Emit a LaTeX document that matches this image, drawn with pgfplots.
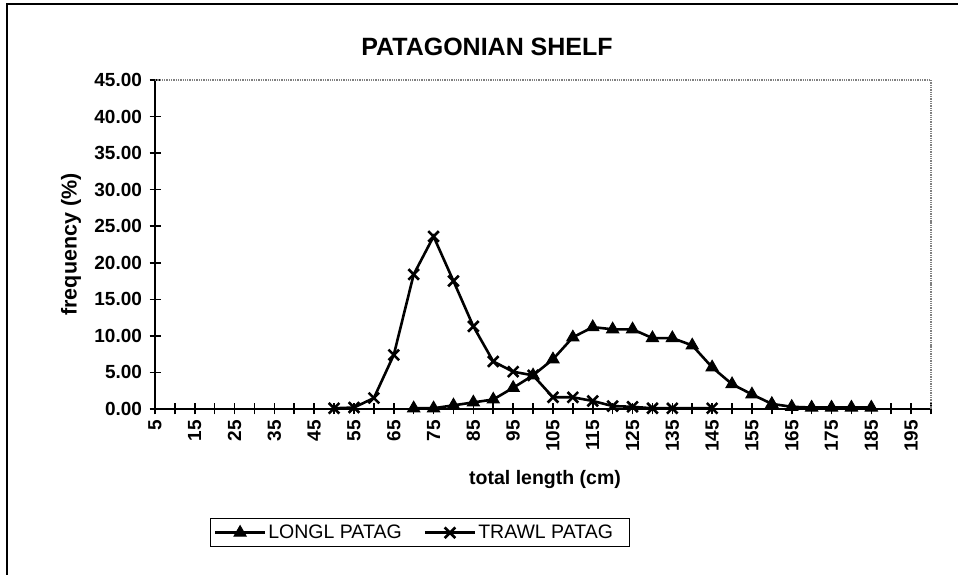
\documentclass[border=0pt]{standalone}
\usepackage{fontspec}
\setmainfont{Liberation Sans}
\usepackage{pgfplots}
\pgfplotsset{compat=1.18}
\begin{document}
\begin{tikzpicture}[x=1bp,y=1bp]
\useasboundingbox (0,0) rectangle (958,575);
\draw[line width=1.5bp] (7,0) -- (7,571) -- (958,571);
\node[font=\fontsize{25bp}{29bp}\selectfont\bfseries] at (487,528) {PATAGONIAN SHELF};
\begin{axis}[
  at={(155bp,166bp)}, anchor=south west,
  scale only axis, width=776bp, height=329bp,
  xmin=5, xmax=200, ymin=0, ymax=45,
  axis x line*=bottom, axis y line*=left,
  axis line style={-, line width=2.4bp, black},
  xtick={5,15,...,195}, minor xtick={10,20,...,200},
  ytick={0,5,...,45},
  tick align=center,
  major tick length=11bp, minor tick length=11bp,
  every tick/.style={black, line width=1.6bp},
  minor tick style={black, line width=1.6bp},
  /pgf/number format/assume math mode=true,
  ticklabel style={font=\fontsize{19bp}{22bp}\selectfont\bfseries},
  yticklabel style={xshift=-4bp, /pgf/number format/fixed, /pgf/number format/fixed zerofill, /pgf/number format/precision=2},
  xticklabel style={rotate=90, anchor=east, xshift=-2bp},
  xlabel={total length (cm)}, ylabel={frequency (\%)},
  xlabel style={font=\fontsize{19.5bp}{23bp}\selectfont\bfseries, at={(rel axis cs:0.5026,-0.213)}, anchor=center},
  ylabel style={font=\fontsize{21.5bp}{25bp}\selectfont\bfseries, at={(rel axis cs:-0.108,0.5)}, anchor=center},
  clip=false,
  legend columns=2,
  legend style={at={(0.071,-0.376)}, anchor=west, draw=black, line width=1.4bp,
    font=\fontsize{19.5bp}{22bp}\selectfont, inner ysep=4.5bp, inner xsep=3bp,
    /tikz/every even column/.append style={column sep=20bp}},
  legend cell align=left,
  legend image code/.code={\draw[mark repeat=2,mark phase=2,#1] plot coordinates {(0bp,0bp) (25bp,0bp) (50bp,0bp)};},
]
\draw[line width=1.3bp, gray, densely dotted] (rel axis cs:0,1) -- (rel axis cs:1,1) -- (rel axis cs:1,0);
\addplot[black, line width=2.6bp, mark=triangle*, mark size=7bp, mark options={solid, line width=1bp}] coordinates {
(70,0.1) (75,0.1) (80,0.5) (85,0.9) (90,1.3) (95,2.9) (100,4.6) (105,6.8) (110,9.8) (115,11.2)
(120,10.9) (125,10.9) (130,9.7) (135,9.7) (140,8.7) (145,5.7) (150,3.4) (155,2.0) (160,0.7)
(165,0.3) (170,0.2) (175,0.2) (180,0.2) (185,0.2)};
\addlegendentry{LONGL PATAG}
\addplot[black, line width=2.6bp, mark=x, mark size=7.5bp, mark options={solid, line width=2.6bp}] coordinates {
(50,0.1) (55,0.2) (60,1.5) (65,7.4) (70,18.4) (75,23.6) (80,17.5) (85,11.3) (90,6.5) (95,5.1)
(100,4.6) (105,1.6) (110,1.6) (115,1.1) (120,0.4) (125,0.3) (130,0.1) (135,0.1) (145,0.1)};
\addlegendentry{\makebox[146bp][l]{TRAWL PATAG}}
\end{axis}
\end{tikzpicture}
\end{document}
